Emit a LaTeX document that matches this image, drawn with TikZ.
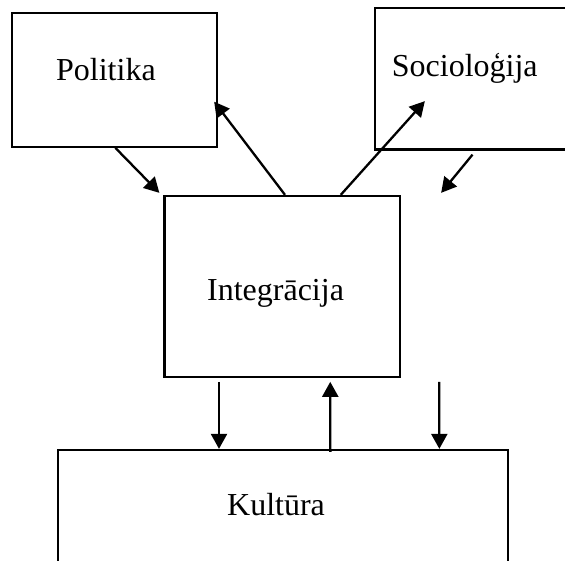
\documentclass[tikz,border=0pt]{standalone}
\usepackage{fontspec}
\setmainfont{Liberation Serif}
\usetikzlibrary{arrows.meta}
\tikzset{>={Triangle[width=16pt,length=15pt]}}

\begin{document}
\begin{tikzpicture}[x=1pt, y=-1pt, line width=2.3pt, box/.style={rectangle, draw=black, inner sep=0pt}, textnode/.style={draw=none, fill=none, inner sep=0pt, anchor=base west, font=\fontsize{32}{36}\selectfont}]

    \useasboundingbox (0,0) rectangle (565,560);
    \clip (0,0) rectangle (565,560);

    %Nodes
    \node[box, minimum width=205.3pt, minimum height=134pt](politika) at (114.35,79.7){};
    \node[box, minimum width=235pt, minimum height=141.7pt](socio) at (492.5,78.65){};
    \node[box, minimum width=235.5pt, minimum height=180.7pt](integ) at (282.25,286.35){};
    \node[box, minimum width=450.3pt, minimum height=160pt](kultura) at (282.85,530){};
    \node[textnode](politika_text) at (55,80){Politika};
    \node[textnode](socio_text) at (390.7,76){Socioloģija};
    \node[textnode](integ_text) at (206,300){Integrācija};
    \node[textnode](kultura_text) at (226,515){Kultūra};

    %Lines
    \draw[->] ([xshift=1pt]politika.south) -- ([xshift=-4pt,yshift=2pt]integ.north west);
    \draw[->] ([xshift=2.75pt]integ.north) -- ([xshift=-4pt,yshift=-22pt]politika.east);
    \draw[->] ([xshift=58.5pt]integ.north) -- ([xshift=51pt,yshift=49.5pt]socio.south west);
    \draw[->] ([xshift=-20pt,yshift=-4pt]socio.south) -- ([xshift=40pt,yshift=2pt]integ.north east);
    \draw[->] ([xshift=-63.25pt,yshift=-4pt]integ.south) -- ([xshift=-63.85pt]kultura.north);
    \draw[->] ([xshift=47.5pt,yshift=-3pt]kultura.north) -- ([xshift=48pt,yshift=-4pt]integ.south);
    \draw[->] ([xshift=157pt,yshift=-4pt]integ.south) -- ([xshift=156.5pt]kultura.north);

\end{tikzpicture}
\end{document}
